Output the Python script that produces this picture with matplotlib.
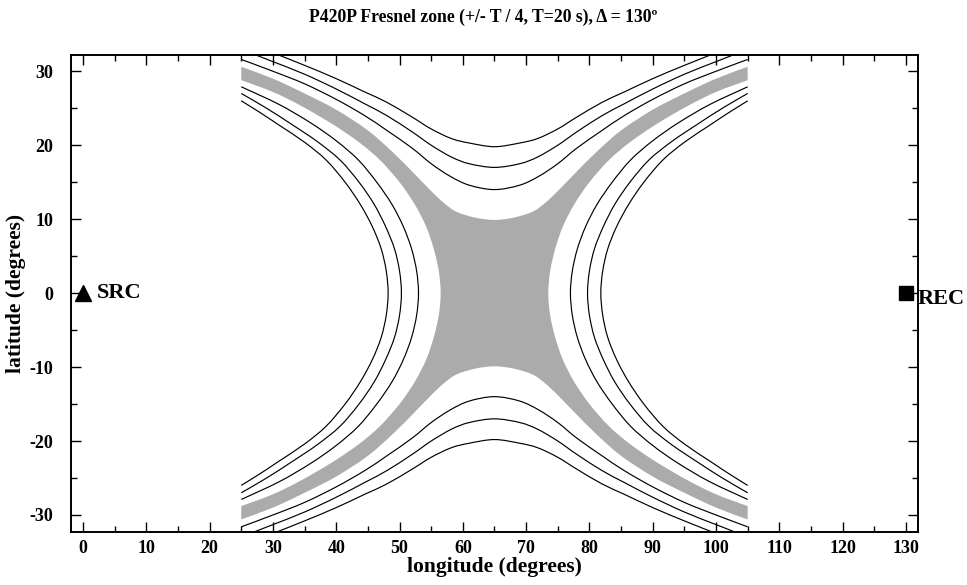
import numpy as np
import matplotlib
matplotlib.use("Agg")
import matplotlib.pyplot as plt
from matplotlib.path import Path
from matplotlib.patches import PathPatch

# contour lines, upper-left quadrant only (lon <= 65, lat >= 0)
# the chart is symmetric about lon = 65 and lat = 0
MID_LON = 65.0

# shaded band (+/- T/4): lower/outer edge and upper/inner edge
band_low_lon = [56.5, 56.2, 55.4, 54.2, 52.4, 50.0, 46.9, 43.6, 39.5, 34.5, 30.0, 25.0]
band_low_lat = [0.0, 3.0, 6.0, 9.0, 12.0, 15.0, 18.0, 20.4, 22.8, 25.3, 27.2, 28.8]
band_up_lon = [65.0, 62.0, 59.0, 57.0, 55.0, 52.5, 49.0, 45.0, 40.0, 35.0, 30.0, 25.0]
band_up_lat = [9.9, 10.2, 11.0, 12.2, 13.8, 16.0, 19.0, 22.0, 24.8, 27.0, 29.0, 30.6]

# lines above the band (vertex on lon = 65)
top1_lon = [65.0, 61.0, 58.0, 55.0, 52.0, 48.0, 44.5, 40.0, 35.0, 30.0, 25.0]
top1_lat = [14.0, 14.6, 15.8, 17.5, 19.6, 22.0, 24.0, 26.2, 28.3, 30.0, 31.6]
top2_lon = [65.0, 61.0, 58.2, 55.0, 52.0, 48.0, 44.5, 40.0, 35.0, 30.0, 27.0]
top2_lat = [17.0, 17.5, 18.4, 20.0, 21.8, 24.0, 25.6, 27.6, 29.6, 31.3, 32.3]
top3_lon = [65.0, 61.0, 58.2, 55.0, 52.0, 48.0, 44.5, 40.0, 35.0, 30.0]
top3_lat = [19.8, 20.3, 20.9, 22.2, 23.8, 25.8, 27.2, 29.0, 30.8, 32.5]

# lines beside the band (vertex on lat = 0)
side1_lon = [53.0, 52.7, 51.9, 50.6, 48.8, 46.4, 43.5, 40.0, 36.0, 31.0, 25.0]
side1_lat = [0.0, 3.0, 6.0, 9.0, 12.0, 15.0, 18.0, 20.6, 23.0, 25.5, 27.9]
side2_lon = [50.3, 50.0, 49.2, 47.8, 46.0, 43.6, 40.6, 37.0, 33.0, 29.0, 25.0]
side2_lat = [0.0, 3.0, 6.0, 9.0, 12.0, 15.0, 18.0, 20.5, 22.8, 25.0, 27.0]
side3_lon = [48.2, 47.9, 47.1, 45.7, 43.8, 41.4, 38.4, 35.0, 31.0, 28.0, 25.0]
side3_lat = [0.0, 3.0, 6.0, 9.0, 12.0, 15.0, 18.0, 20.4, 22.7, 24.4, 26.0]

src_lon, src_lat = 0.0, 0.0
rec_lon, rec_lat = 130.0, 0.0

SHADE = "#ababab"


def mirror_lon(lon):
    return 2 * MID_LON - np.asarray(lon)


def bezier_segments(pts):
    # smooth curve through the read points (Catmull-Rom as cubic Bezier pieces)
    pts = np.asarray(pts, dtype=float)
    ext = np.vstack([pts[0], pts, pts[-1]])
    verts = []
    for i in range(1, len(ext) - 2):
        p0, p1, p2, p3 = ext[i - 1], ext[i], ext[i + 1], ext[i + 2]
        verts += [p1 + (p2 - p0) / 6.0, p2 - (p3 - p1) / 6.0, p2]
    return verts


def smooth_line(ax, x, y):
    pts = np.column_stack([x, y])
    verts = [pts[0]] + bezier_segments(pts)
    codes = [Path.MOVETO] + [Path.CURVE4] * (len(verts) - 1)
    ax.add_patch(PathPatch(Path(verts, codes), fill=False, edgecolor="black", lw=0.85, zorder=3))


def notch(lon_a, lat_a, lon_b, lat_b):
    # two quadrant pieces joined into one smooth boundary
    x = np.concatenate([lon_a[::-1], lon_b[1:]])
    y = np.concatenate([lat_a[::-1], lat_b[1:]])
    return np.column_stack([x, y])


def draw_band(ax):
    ulx, uly = np.asarray(band_up_lon), np.asarray(band_up_lat)
    llx, lly = np.asarray(band_low_lon), np.asarray(band_low_lat)
    pieces = [
        notch(ulx, uly, mirror_lon(ulx), uly),                    # top
        notch(mirror_lon(llx), lly, mirror_lon(llx), -lly),       # right
        notch(mirror_lon(ulx), -uly, ulx, -uly),                  # bottom
        notch(llx, -lly, llx, lly),                               # left
    ]
    verts, codes = [pieces[0][0]], [Path.MOVETO]
    for k, pts in enumerate(pieces):
        if k > 0:
            verts.append(pts[0]); codes.append(Path.LINETO)
        seg = bezier_segments(pts)
        verts += seg; codes += [Path.CURVE4] * len(seg)
    verts.append(pieces[0][0]); codes.append(Path.CLOSEPOLY)
    ax.add_patch(PathPatch(Path(verts, codes), facecolor=SHADE, edgecolor="none", lw=0, zorder=1))


def draw_four(ax, lon, lat, join_lon):
    lon = np.asarray(lon)
    lat = np.asarray(lat)
    if join_lon:
        # curve crosses lon = 65: one line across the top, one across the bottom
        x = np.concatenate([lon[::-1], mirror_lon(lon[1:])])
        y = np.concatenate([lat[::-1], lat[1:]])
        smooth_line(ax, x, y)
        smooth_line(ax, x, -y)
    else:
        # curve crosses lat = 0: one line on the left, one on the right
        x = np.concatenate([lon[::-1], lon[1:]])
        y = np.concatenate([lat[::-1], -lat[1:]])
        smooth_line(ax, x, y)
        smooth_line(ax, mirror_lon(x), y)


def fresnel_plot():
    plt.rcParams["font.family"] = ["Liberation Serif", "DejaVu Serif"]
    plt.rcParams["font.weight"] = "bold"
    plt.rcParams["axes.unicode_minus"] = False
    fig = plt.figure(figsize=(9.67, 5.85), dpi=100)
    ax = fig.add_axes([0.0734, 0.0906, 0.8759, 0.8154])

    draw_band(ax)
    for lon, lat in [(top1_lon, top1_lat), (top2_lon, top2_lat), (top3_lon, top3_lat)]:
        draw_four(ax, lon, lat, True)
    for lon, lat in [(side1_lon, side1_lat), (side2_lon, side2_lat), (side3_lon, side3_lat)]:
        draw_four(ax, lon, lat, False)

    ax.plot(src_lon, src_lat, marker="^", ms=11, color="black", zorder=5)
    ax.plot(rec_lon, rec_lat, marker="s", ms=10, color="black", zorder=5)
    ax.text(src_lon + 2.2, src_lat, "SRC", fontsize=16, fontweight="bold", va="center", ha="left")
    ax.text(rec_lon + 1.9, rec_lat - 0.8, "REC", fontsize=16, fontweight="bold", va="center",
            ha="left", clip_on=False)

    ax.set_xlim(-1.9, 131.9)
    ax.set_ylim(-32.3, 32.2)
    ax.set_xticks(np.arange(0, 131, 10))
    ax.set_xticks(np.arange(5, 131, 10), minor=True)
    ax.set_yticks(np.arange(-30, 31, 10))
    ax.set_yticks(np.arange(-25, 31, 10), minor=True)
    ax.tick_params(which="both", direction="in", top=True, right=True, width=1)
    ax.tick_params(which="major", length=7, labelsize=13)
    ax.tick_params(which="minor", length=4)
    ax.tick_params(axis="y", pad=13)
    ax.tick_params(axis="x", pad=6)
    for s in ax.spines.values():
        s.set_linewidth(1.4)

    ax.set_xlabel("longitude (degrees)", fontsize=15.5, fontweight="bold", labelpad=0)
    ax.set_ylabel("latitude (degrees)", fontsize=15.5, fontweight="bold", labelpad=2)
    fig.text(0.5, 1 - 17.5 / 585, "P420P Fresnel zone (+/- T / 4, T=20 s), \u0394 = 130\u00ba",
             ha="center", va="center", fontsize=12.7, fontweight="bold")

    fig.savefig("out.png", dpi=100)


if __name__ == "__main__":
    fresnel_plot()
